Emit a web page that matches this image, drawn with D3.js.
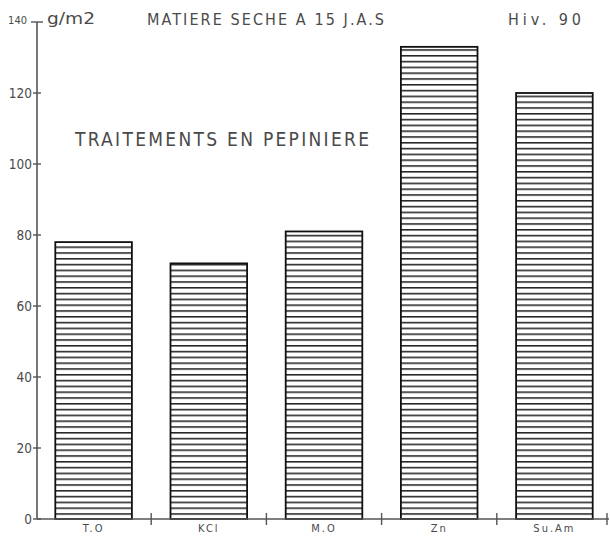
<!DOCTYPE html>
<html>
<head>
<meta charset="utf-8">
<script src="https://cdn.jsdelivr.net/npm/d3@7"></script>
<style>
  html, body { margin: 0; padding: 0; background: #fff; }
  svg { display: block; }
  text { font-family: "DejaVu Sans Condensed", "DejaVu Sans", sans-serif; fill: #4a4a4a; }
</style>
</head>
<body>
<svg id="chart" width="610" height="536"></svg>
<script>
// Dry matter at 15 days after sowing, by nursery treatment
const categories = ["T.O", "KCl", "M.O", "Zn", "Su.Am"];
const values = [78, 72, 81, 133, 120];
const yTicks = [0, 20, 40, 60, 80, 100, 120, 140];

const width = 610, height = 536;
const svg = d3.select("#chart");

const x = d3.scaleBand()
  .domain(categories)
  .range([36, 612])
  .paddingInner(0.335)
  .paddingOuter(0.1675);

const y = d3.scaleLinear().domain([0, 140]).range([519, 22]);

// horizontal hatching fill, anchored on the baseline
const hatchGap = 5.8;
const defs = svg.append("defs");
const pat = defs.append("pattern")
  .attr("id", "hatch")
  .attr("patternUnits", "userSpaceOnUse")
  .attr("width", 8)
  .attr("height", hatchGap)
  .attr("y", y(0) % hatchGap);
pat.append("rect").attr("width", 8).attr("height", hatchGap).attr("fill", "#fff");
pat.append("line")
  .attr("x1", 0).attr("x2", 8)
  .attr("y1", 0.8).attr("y2", 0.8)
  .attr("stroke", "#1a1a1a")
  .attr("stroke-width", 1.5);

// bars
svg.append("g").selectAll("rect")
  .data(categories)
  .join("rect")
  .attr("x", d => x(d))
  .attr("y", (d, i) => y(values[i]))
  .attr("width", x.bandwidth())
  .attr("height", (d, i) => y(0) - y(values[i]))
  .attr("fill", "url(#hatch)")
  .attr("stroke", "#111")
  .attr("stroke-width", 1.8);

// y axis
const axisX = x.range()[0] + 1;
const gy = svg.append("g").attr("stroke", "#555");
gy.append("line")
  .attr("x1", axisX).attr("x2", axisX)
  .attr("y1", y(0)).attr("y2", y(140))
  .attr("stroke-width", 1.6);
gy.selectAll("line.tick")
  .data(yTicks)
  .join("line")
  .attr("class", "tick")
  .attr("x1", d => d === 140 ? axisX - 6 : axisX - 4)
  .attr("x2", d => d === 140 ? axisX + 6 : axisX + 4)
  .attr("y1", d => y(d)).attr("y2", d => y(d))
  .attr("stroke-width", 1.4);

svg.append("g").selectAll("text")
  .data(yTicks)
  .join("text")
  .attr("x", d => d === 140 ? axisX - 10 : axisX - 5)
  .attr("y", d => y(d))
  .attr("dy", d => d === 140 ? "0.15em" : "0.36em")
  .attr("text-anchor", "end")
  .attr("font-size", d => d === 140 ? 11 : 13.5)
  .text(d => d);

// x axis
const gx = svg.append("g").attr("stroke", "#555");
gx.append("line")
  .attr("x1", axisX).attr("x2", x.range()[1] - 3)
  .attr("y1", y(0)).attr("y2", y(0))
  .attr("stroke-width", 1.6);
gx.selectAll("line.tick")
  .data(categories)
  .join("line")
  .attr("class", "tick")
  .attr("x1", d => Math.min(x(d) + x.step() * (1 - x.paddingInner() / 2), 607))
  .attr("x2", d => Math.min(x(d) + x.step() * (1 - x.paddingInner() / 2), 607))
  .attr("y1", y(0) - 6).attr("y2", y(0) + 6)
  .attr("stroke-width", 1.4);

svg.append("g").selectAll("text")
  .data(categories)
  .join("text")
  .attr("x", d => x(d) + x.bandwidth() / 2)
  .attr("y", 532)
  .attr("text-anchor", "middle")
  .attr("font-size", 11)
  .attr("letter-spacing", 2)
  .text(d => d);

// unit and headings
svg.append("text")
  .attr("x", 47).attr("y", 24)
  .attr("font-size", 16)
  .attr("textLength", 48).attr("lengthAdjust", "spacingAndGlyphs")
  .text("g/m2");

svg.append("text")
  .attr("x", 147).attr("y", 25)
  .attr("font-size", 16)
  .attr("textLength", 237).attr("lengthAdjust", "spacing")
  .text("MATIERE SECHE A 15 J.A.S");

svg.append("text")
  .attr("x", 508).attr("y", 25)
  .attr("font-size", 16)
  .attr("textLength", 73).attr("lengthAdjust", "spacing")
  .text("Hiv. 90");

svg.append("text")
  .attr("x", 75).attr("y", 146)
  .attr("font-size", 19)
  .attr("textLength", 294).attr("lengthAdjust", "spacing")
  .text("TRAITEMENTS EN PEPINIERE");
</script>
</body>
</html>
